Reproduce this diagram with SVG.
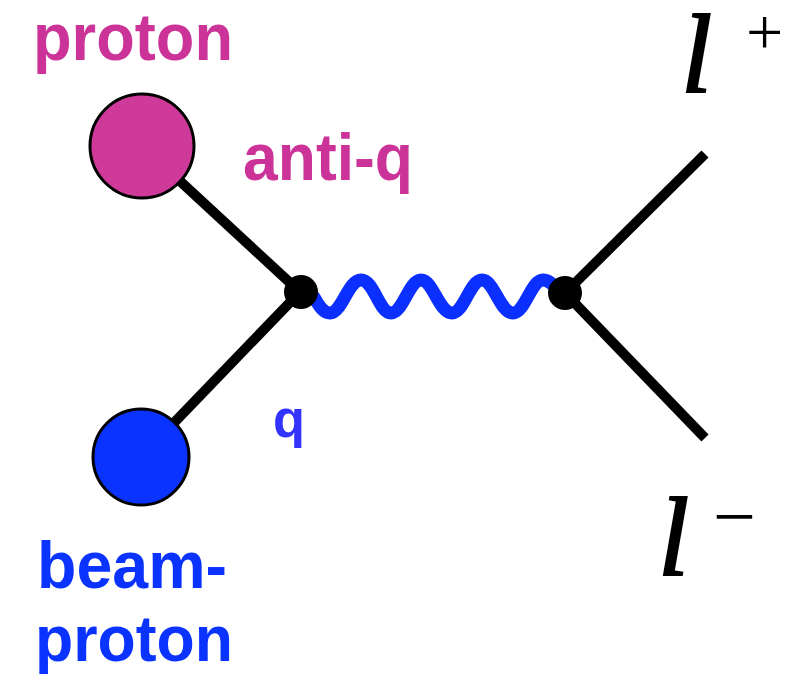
<svg xmlns="http://www.w3.org/2000/svg" width="810" height="676" viewBox="0 0 810 676">
<style>
.lbl{font-family:"Liberation Sans",Arial,sans-serif;font-weight:bold;font-size:66px}
.pink{fill:#CC3399}
.blue{fill:#0A33FF}
.leg{stroke:#000;stroke-width:10;fill:none}
.math{font-family:"Liberation Serif","Times New Roman",serif;fill:#000}
.ell{font-style:italic;font-size:112px;stroke:#000;stroke-width:2}
</style>
<rect width="810" height="676" fill="#fff"/>
<g id="connectors">
<line class="leg" x1="142" y1="146" x2="300" y2="292"/>
<line class="leg" x1="141" y1="457" x2="300" y2="292"/>
<line class="leg" x1="565" y1="293" x2="705" y2="154"/>
<line class="leg" x1="565" y1="293" x2="705" y2="438"/>
<path id="photon" d="M 314 297 C 320 308 324 313 330 313 C 342 313 348 280 361 280 C 374 280 379 313 391 313 C 403 313 409 280 421 280 C 433 280 439 313 452 313 C 464 313 470 280 482 280 C 494 280 500 313 513 313 C 525 313 531 280 543 280 C 550 280 555 287 560 292" fill="none" stroke="#0A2FFF" stroke-width="13" stroke-linecap="round"/>
</g>
<g id="proton">
<circle cx="142" cy="146" r="52" fill="#CF3A9A" stroke="#000" stroke-width="3"/>
<text class="lbl pink" x="33" y="60" textLength="200" lengthAdjust="spacingAndGlyphs">proton</text>
</g>
<g id="antiq">
<text class="lbl pink" x="243" y="180" textLength="170" lengthAdjust="spacingAndGlyphs">anti-q</text>
</g>
<g id="beamproton">
<circle cx="141" cy="457" r="48" fill="#0A33FF" stroke="#000" stroke-width="3"/>
<text class="lbl blue" x="37" y="588" textLength="190" lengthAdjust="spacingAndGlyphs">beam-</text>
<text class="lbl blue" x="35" y="661" font-size="64" textLength="198" lengthAdjust="spacingAndGlyphs" style="font-size:64px">proton</text>
</g>
<g id="q">
<text class="lbl" x="273" y="437" style="font-size:54px;fill:#3333FF" textLength="32" lengthAdjust="spacingAndGlyphs">q</text>
</g>
<g id="vertex1"><circle cx="301" cy="292" r="17" fill="#000"/></g>
<g id="vertex2"><circle cx="565" cy="293" r="17" fill="#000"/></g>
<g id="lplus">
<text class="math ell" x="681" y="92">l</text>
<text class="math" x="746" y="54" font-size="66" fill="#333">+</text>
</g>
<g id="lminus">
<text class="math ell" x="658" y="575">l</text>
<text class="math" x="713" y="542" font-size="76" fill="#333">−</text>
</g>
</svg>
